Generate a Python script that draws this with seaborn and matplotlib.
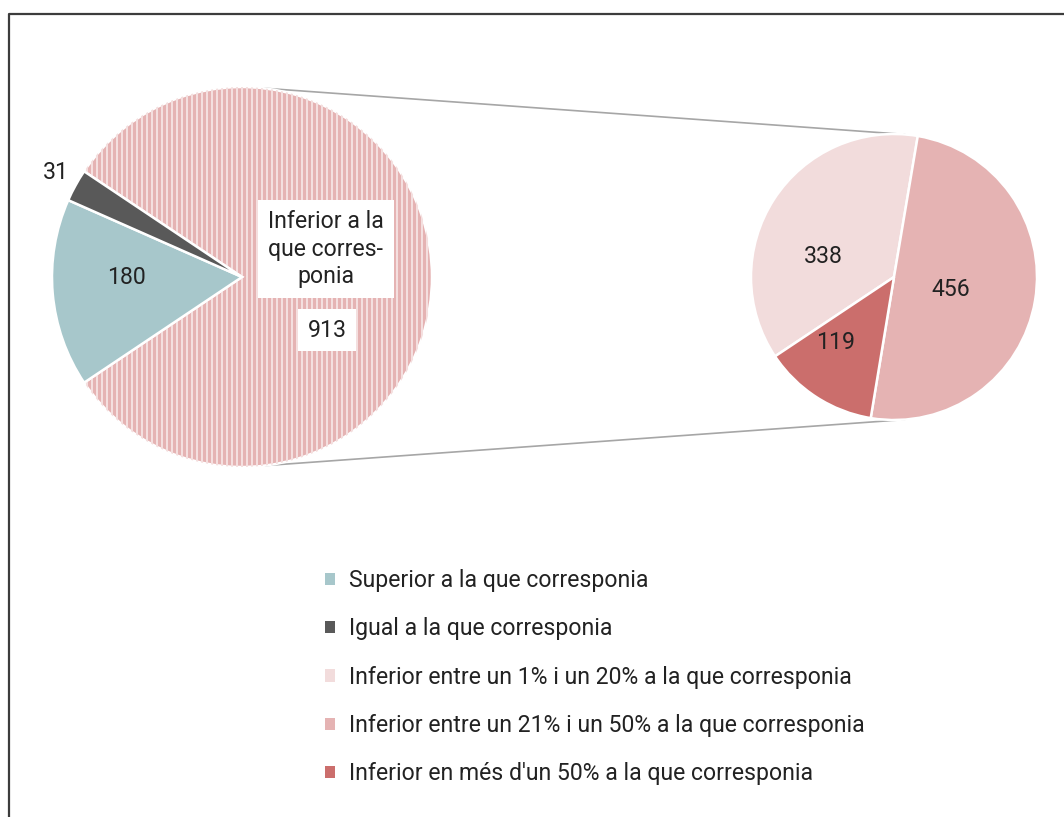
import matplotlib
matplotlib.use("Agg")
import numpy as np
import matplotlib.pyplot as plt
import seaborn as sns
from matplotlib.patches import Patch, ConnectionPatch
from matplotlib.lines import Line2D
from matplotlib.collections import LineCollection

# ---- data -------------------------------------------------------------
main_labels = ["Superior a la que corresponia",
               "Igual a la que corresponia",
               "Inferior a la que corresponia"]
main_values = [180, 31, 913]
big_slice_caption = "Inferior a la\nque corres-\nponia"

detail_labels = ["Inferior entre un 1% i un 20% a la que corresponia",
                 "Inferior entre un 21% i un 50% a la que corresponia",
                 "Inferior en més d'un 50% a la que corresponia"]
detail_values = [338, 456, 119]

# ---- style ------------------------------------------------------------
sns.set_theme(style="white")
plt.rcParams["font.family"] = ["Roboto", "DejaVu Sans"]
plt.rcParams["font.weight"] = "normal"

main_colors = ["#A7C7CB", "#595959", "#E5B3B3"]
detail_colors = ["#F2DCDC", "#E5B3B3", "#CB6E6C"]
stripe_color = "#F4DFDF"
text_color = "#222222"
fs = 16.6

W, H = 1064, 817
fig = plt.figure(figsize=(W / 100, H / 100), dpi=100, facecolor="white")


def px_axes(cx, cy, r):
    return fig.add_axes([(cx - r) / W, 1 - (cy + r) / H, 2 * r / W, 2 * r / H])


ax_main = px_axes(242, 277, 190)
ax_det = px_axes(894, 277, 143)

# main pie: the "inferior" slice is centred on the right-hand side
other_share = sum(main_values[:2]) / sum(main_values)
main_start = 180 + 360 * other_share / 2
wedges_m, _ = ax_main.pie(main_values, colors=main_colors, startangle=main_start,
                          counterclock=False,
                          wedgeprops=dict(edgecolor="white", linewidth=1.8))
big = wedges_m[2]
big.set_zorder(0.5)

# vertical pinstripes on the large slice
xs = np.arange(-1.0, 1.0, 5 / 190)
segs = [[(x, -1.05), (x, 1.05)] for x in xs]
stripes = LineCollection(segs, colors=stripe_color, linewidths=1.45, zorder=0.6)
ax_main.add_collection(stripes)
stripes.set_clip_path(big)

# detail pie
wedges_d, _ = ax_det.pie(detail_values, colors=detail_colors, startangle=213.7,
                         counterclock=False,
                         wedgeprops=dict(edgecolor="white", linewidth=1.8))

for ax in (ax_main, ax_det):
    ax.set_xlim(-1, 1)
    ax.set_ylim(-1, 1)
    ax.set_aspect("equal")
    ax.axis("off")

# ---- value labels ------------------------------------------------------
main_label_pos = [(-0.61, 0.0), (-0.98, 0.55), (0.447, -0.279)]
for v, (x, y) in zip(main_values, main_label_pos):
    kw = {}
    if v == main_values[2]:
        kw["bbox"] = dict(boxstyle="square,pad=0.4", fc="white", ec="none")
    ax_main.text(x, y, f"{v}", ha="center", va="center", fontsize=fs,
                 color=text_color, zorder=5, **kw)

ax_main.text(0.442, 0.147, big_slice_caption,
             ha="center", va="center", fontsize=fs, color=text_color,
             linespacing=1.25, zorder=5,
             bbox=dict(boxstyle="square,pad=0.45", fc="white", ec="none"))

detail_label_pos = [(-0.497, 0.14), (0.40, -0.084), (-0.406, -0.455)]
for v, (x, y) in zip(detail_values, detail_label_pos):
    ax_det.text(x, y, f"{v}", ha="center", va="center", fontsize=fs,
                color=text_color, zorder=5)

# ---- connector lines ---------------------------------------------------
for a_ang, b_ang in [(83.7, 85.6), (-83.0, -85.6)]:
    ra, rb = np.radians(a_ang), np.radians(b_ang)
    con = ConnectionPatch(xyA=(np.cos(ra), np.sin(ra)), coordsA=ax_main.transData,
                          xyB=(np.cos(rb), np.sin(rb)), coordsB=ax_det.transData,
                          color="#A6A6A6", linewidth=1.2, zorder=0)
    fig.add_artist(con)

# ---- legend ------------------------------------------------------------
legend_labels = main_labels[:2] + detail_labels
legend_colors = main_colors[:2] + detail_colors
handles = [Patch(facecolor=c, edgecolor="none") for c in legend_colors]
fig.legend(handles, legend_labels, loc="upper left",
           bbox_to_anchor=(325 / W, 1 - 569 / H), frameon=False,
           fontsize=fs, labelcolor=text_color, handlelength=0.45,
           handleheight=0.45, handletextpad=0.6, labelspacing=1.1,
           borderpad=0, borderaxespad=0)

# ---- outer frame (top and left edges) ---------------------------------
fx, fy = 8.5 / W, 1 - 13.5 / H
fig.add_artist(Line2D([fx, fx, 1.0], [0.0, fy, fy], transform=fig.transFigure,
                      color="#3C3C3C", linewidth=1.6))

fig.savefig("out.png", dpi=100, facecolor="white")
